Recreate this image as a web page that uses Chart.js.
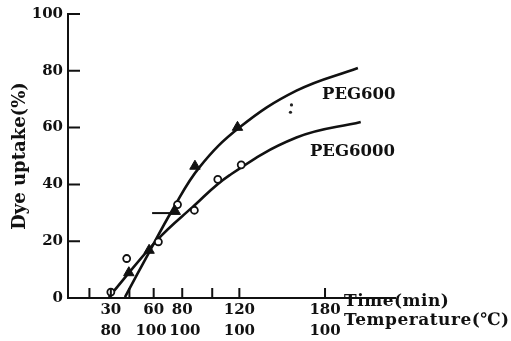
<!DOCTYPE html>
<html>
<head>
<meta charset="utf-8">
<script src="https://cdn.jsdelivr.net/npm/chart.js@4/dist/chart.umd.min.js"></script>
<style>
	body { margin: 0; background: #fff; }
	canvas { display: block; }
</style>
</head>
<body>
<canvas id="chart-area" width="511" height="341"></canvas>
<script>
		// time axis: tick positions and the two rows of labels under them
		var timeTicks = [15, 30, 43, 60, 80, 101, 120, 180];
		var timeLabels = ['', '30', '', '60', '80', '', '120', '180'];
		var tempLabels = ['', '80', '', '100 ', ' 100', '', '100', '100'];
		var uptakeTicks = [0, 20, 40, 60, 80, 100];

		// measured points
		var peg600Time = [42.6, 56.8, 75.1, 88.9, 118.7];
		var peg600Uptake = [8.9, 16.8, 30.5, 46.4, 60.1];
		var peg6000Time = [30, 41.1, 63.3, 76.7, 88.5, 104.9, 121.3];
		var peg6000Uptake = [2.1, 13.9, 19.8, 32.9, 30.9, 41.8, 46.9];

		// hand drawn curves
		var peg600CurveTime = [39.9, 56.8, 73.0, 92.0, 120.0, 160.0, 203.0];
		var peg600CurveUptake = [0.3, 16.1, 30.9, 46.0, 60.0, 73.0, 81.0];
		var peg6000CurveTime = [28.6, 62.4, 87.0, 113.0, 160.0, 205.0];
		var peg6000CurveUptake = [0.3, 20.4, 31.9, 43.2, 56.5, 62.0];

		// stray marks in the print
		var dashTime = [58.9, 73.0];
		var dashUptake = [29.9, 29.9];
		var specksTime = [156.5, 155.8];
		var specksUptake = [68.0, 65.4];

		// curve names and where they are written
		var curveNames = ['PEG600', 'PEG6000'];
		var nameTime = [177.9, 169.4];
		var nameUptake = [71.6, 51.6];

		var serif = '"DejaVu Serif", "Liberation Serif", serif';

		function pairs(xs, ys) {
			return xs.map(function(x, i) { return {x: x, y: ys[i]}; });
		}

		var paperAndTicks = {
			id: 'paperAndTicks',
			beforeDraw: function(chart) {
				var c = chart.ctx;
				c.save();
				c.fillStyle = '#fff';
				c.fillRect(0, 0, chart.width, chart.height);
				c.restore();
			},
			afterDraw: function(chart) {
				var c = chart.ctx;
				var xs = chart.scales.x, ys = chart.scales.y;
				var a = chart.chartArea;
				c.save();
				c.strokeStyle = '#111';
				c.lineWidth = 2;
				c.beginPath();
				uptakeTicks.forEach(function(v) {
					if (v === 0) return;
					var py = ys.getPixelForValue(v);
					c.moveTo(a.left, py);
					c.lineTo(a.left + 12, py);
				});
				timeTicks.forEach(function(v) {
					var px = xs.getPixelForValue(v);
					c.moveTo(px, a.bottom);
					c.lineTo(px, a.bottom - 10);
				});
				c.stroke();

				// unit names next to the last tick
				c.fillStyle = '#111';
				c.font = 'bold 17px ' + serif;
				c.textAlign = 'left';
				c.textBaseline = 'middle';
				var ux = xs.getPixelForValue(180) + 19;
				c.letterSpacing = '0.5px';
				c.fillText('Time(min)', ux, 302);
				c.fillText('Temperature(℃)', ux, 321);
				c.letterSpacing = '0px';

				// curve names
				c.font = 'bold 16.5px ' + serif;
				curveNames.forEach(function(name, i) {
					c.fillText(name, xs.getPixelForValue(nameTime[i]), ys.getPixelForValue(nameUptake[i]));
				});
				c.restore();
			}
		};

		var config = {
			type: 'scatter',
			data: {
				datasets: [{
					label: 'PEG600',
					data: pairs(peg600Time, peg600Uptake),
					pointStyle: 'triangle',
					pointRadius: 6,
					backgroundColor: '#111',
					borderColor: '#111',
					borderWidth: 1,
					order: 0
				}, {
					label: 'PEG6000',
					data: pairs(peg6000Time, peg6000Uptake),
					pointStyle: 'circle',
					pointRadius: 3.5,
					backgroundColor: '#fff',
					borderColor: '#111',
					borderWidth: 1.8,
					order: 0
				}, {
					label: 'PEG600 curve',
					data: pairs(peg600CurveTime, peg600CurveUptake),
					showLine: true,
					tension: 0.4,
					pointRadius: 0,
					borderColor: '#111',
					borderWidth: 2.6,
					order: 1
				}, {
					label: 'PEG6000 curve',
					data: pairs(peg6000CurveTime, peg6000CurveUptake),
					showLine: true,
					tension: 0.4,
					pointRadius: 0,
					borderColor: '#111',
					borderWidth: 2.6,
					order: 1
				}, {
					label: 'dash',
					data: pairs(dashTime, dashUptake),
					showLine: true,
					pointRadius: 0,
					borderColor: '#111',
					borderWidth: 2,
					order: 1
				}, {
					label: 'specks',
					data: pairs(specksTime, specksUptake),
					pointRadius: 1.6,
					backgroundColor: '#222',
					borderWidth: 0,
					order: 0
				}]
			},
			options: {
				responsive: false,
				devicePixelRatio: 1,
				animation: false,
				layout: {
					padding: {left: 0, right: 116, top: 13, bottom: 0}
				},
				plugins: {
					legend: {display: false},
					tooltip: {enabled: false}
				},
				scales: {
					x: {
						type: 'linear',
						min: 0,
						max: 229,
						grid: {display: false, drawTicks: false},
						border: {display: true, color: '#111', width: 2},
						afterBuildTicks: function(scale) {
							scale.ticks = timeTicks.map(function(v) { return {value: v}; });
						},
						afterFit: function(scale) { scale.height = 43; },
						ticks: {
							autoSkip: false,
							maxRotation: 0,
							padding: 2,
							color: '#111',
							font: {family: serif, size: 15, weight: 'bold', lineHeight: 1.4},
							callback: function(value) {
								var i = timeTicks.indexOf(value);
								if (i < 0 || timeLabels[i] === '') return '';
								return [timeLabels[i], tempLabels[i]];
							}
						}
					},
					y: {
						min: 0,
						max: 100,
						grid: {display: false, drawTicks: false},
						border: {display: true, color: '#111', width: 2},
						afterFit: function(scale) { scale.width = 68; },
						ticks: {
							stepSize: 20,
							padding: 5,
							color: '#111',
							font: {family: serif, size: 15, weight: 'bold'}
						},
						title: {
							display: true,
							text: 'Dye uptake(%)',
							color: '#111',
							padding: {top: 10, bottom: 0},
							font: {family: serif, size: 18, weight: 'bold'}
						}
					}
				}
			},
			plugins: [paperAndTicks]
		};

		window.onload = function() {
			var ctx = document.getElementById('chart-area').getContext('2d');
			window.myChart = new Chart(ctx, config);
		};
</script>
</body>
</html>
